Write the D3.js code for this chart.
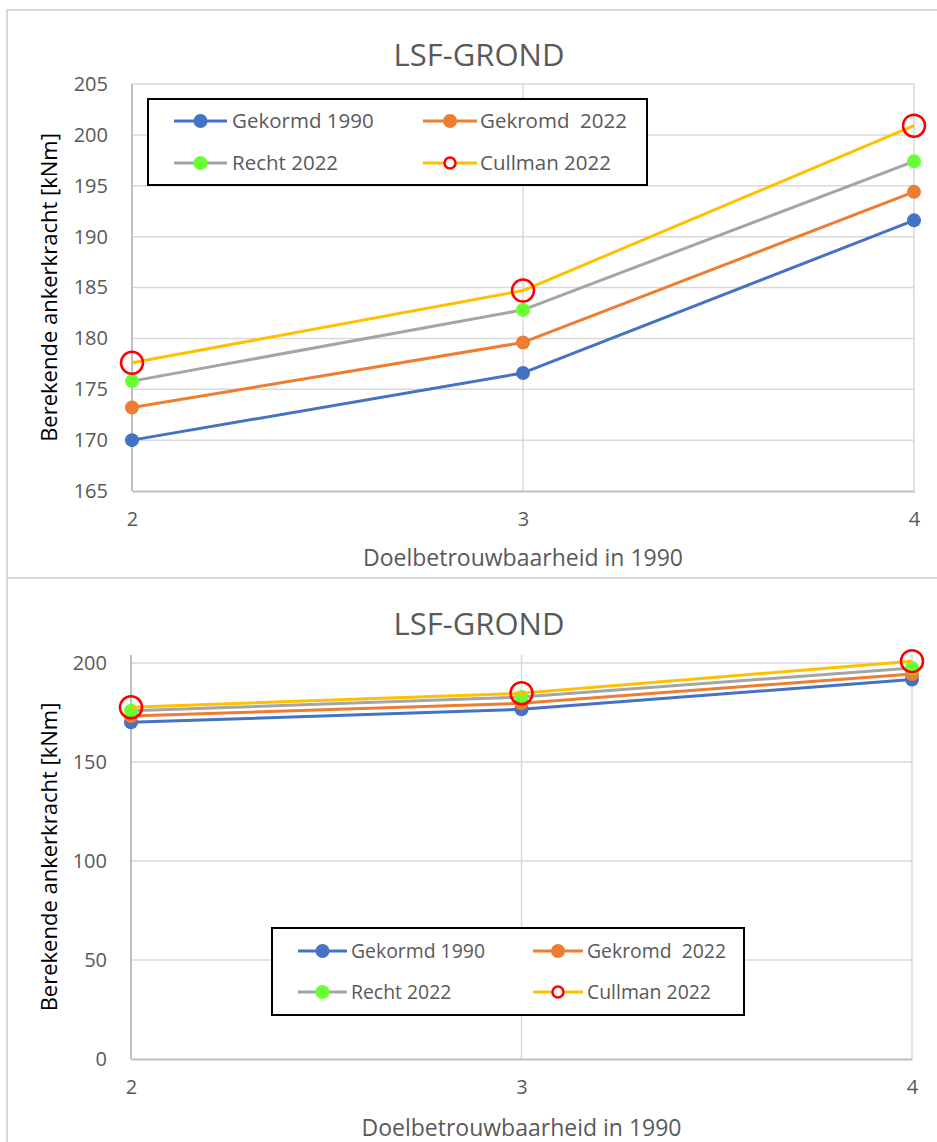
<!DOCTYPE html>
<html>
<head>
<meta charset="utf-8">
<script src="https://cdn.jsdelivr.net/npm/d3@7"></script>
<style>
  html, body { margin: 0; padding: 0; background: #ffffff; }
  svg { display: block; }
  text { font-family: "Open Sans", "Liberation Sans", sans-serif; }
</style>
</head>
<body>
<svg id="chart" width="937" height="1142"></svg>
<script>
// Target reliability (x) and calculated anchor force per method
const xValues = [2, 3, 4];
const gekormd1990 = [170.0, 176.6, 191.6];
const gekromd2022 = [173.2, 179.6, 194.4];
const recht2022   = [175.8, 182.8, 197.4];
const cullman2022 = [177.6, 184.7, 200.9];

const seriesNames = ["Gekormd 1990", "Gekromd  2022", "Recht 2022", "Cullman 2022"];

const topYTicks = [165, 170, 175, 180, 185, 190, 195, 200, 205];
const bottomYTicks = [0, 50, 100, 150, 200];
const xTicks = [2, 3, 4];

const chartTitle = "LSF-GROND";
const xTitle = "Doelbetrouwbaarheid in 1990";
const yTitle = "Berekende ankerkracht [kNm]";

// Series styling
const series = [
  { name: seriesNames[0], values: gekormd1990, line: "#4472C4", fill: "#4472C4", stroke: "none", r: 7, legendR: 7 },
  { name: seriesNames[1], values: gekromd2022, line: "#ED7D31", fill: "#ED7D31", stroke: "none", r: 7, legendR: 7 },
  { name: seriesNames[2], values: recht2022,   line: "#A5A5A5", fill: "#66FF33", stroke: "none", r: 7, legendR: 7 },
  { name: seriesNames[3], values: cullman2022, line: "#FFC000", fill: "none", stroke: "#FF0000", r: 11, legendR: 5.5 }
];

const svg = d3.select("#chart");

function drawChart(cfg) {
  const g = svg.append("g");

  // chart-area frame
  g.append("rect")
    .attr("x", cfg.frame.x).attr("y", cfg.frame.y)
    .attr("width", cfg.frame.w).attr("height", cfg.frame.h)
    .attr("fill", "#ffffff").attr("stroke", "#d9d9d9").attr("stroke-width", 2);

  const x = d3.scaleLinear().domain([2, 4]).range([cfg.left, cfg.right]);
  const y = d3.scaleLinear().domain(cfg.yDomain).range([cfg.bottom, cfg.top]);

  // horizontal gridlines
  g.append("g").selectAll("line").data(cfg.yTicks.filter(v => v !== cfg.yDomain[0])).join("line")
    .attr("x1", cfg.left).attr("x2", cfg.right)
    .attr("y1", d => y(d)).attr("y2", d => y(d))
    .attr("stroke", "#d9d9d9").attr("stroke-width", 1.5);

  // vertical gridlines
  g.append("g").selectAll("line").data(xTicks.slice(1)).join("line")
    .attr("x1", d => x(d)).attr("x2", d => x(d))
    .attr("y1", cfg.top).attr("y2", cfg.bottom)
    .attr("stroke", "#d9d9d9").attr("stroke-width", 1.5);

  // axes via d3 axis generators, styled flat
  const yAxis = g.append("g").attr("transform", `translate(${cfg.left},0)`)
    .call(d3.axisLeft(y).tickValues(cfg.yTicks).tickSize(0).tickPadding(24));
  const xAxis = g.append("g").attr("transform", `translate(0,${cfg.bottom})`)
    .call(d3.axisBottom(x).tickValues(xTicks).tickSize(0).tickFormat(d3.format("d")).tickPadding(cfg.xTickPad));
  [yAxis, xAxis].forEach(a => {
    a.select(".domain").attr("stroke", "#bfbfbf").attr("stroke-width", 2);
    a.selectAll("text").attr("fill", "#595959").style("font-size", cfg.tickSize + "px")
      .style("font-family", "'Open Sans', sans-serif");
  });
  yAxis.select(".domain").attr("d", `M0,${cfg.bottom}V${cfg.top}`);

  // title
  g.append("text").attr("x", cfg.titleX).attr("y", cfg.titleY)
    .attr("text-anchor", "middle").attr("fill", "#595959")
    .style("font-size", "31px").text(chartTitle);

  // axis titles
  g.append("text").attr("x", (cfg.left + cfg.right) / 2).attr("y", cfg.xTitleY)
    .attr("text-anchor", "middle").attr("fill", "#595959")
    .style("font-size", "23px").text(xTitle);
  g.append("text")
    .attr("transform", `translate(${cfg.yTitleX},${(cfg.top + cfg.bottom) / 2}) rotate(-90)`)
    .attr("text-anchor", "middle").attr("fill", "#000000")
    .style("font-size", "22px").text(yTitle);

  // series: line then markers, in series order
  const lineGen = d3.line().x((d, i) => x(xValues[i])).y(d => y(d));
  series.forEach(s => {
    g.append("path").datum(s.values)
      .attr("d", lineGen).attr("fill", "none")
      .attr("stroke", s.line).attr("stroke-width", 3).attr("stroke-linejoin", "round");
    g.append("g").selectAll("circle").data(s.values).join("circle")
      .attr("cx", (d, i) => x(xValues[i])).attr("cy", d => y(d)).attr("r", s.r)
      .attr("fill", s.fill).attr("stroke", s.stroke).attr("stroke-width", s.stroke === "none" ? 0 : 2.5);
  });

  // legend
  const L = cfg.legend;
  const lg = g.append("g").attr("transform", `translate(${L.x},${L.y})`);
  lg.append("rect").attr("width", L.w).attr("height", L.h)
    .attr("fill", "#ffffff").attr("stroke", "#000000").attr("stroke-width", 2);
  series.forEach((s, i) => {
    const col = i % 2, row = Math.floor(i / 2);
    const x0 = L.cols[col][0], x1 = L.cols[col][1], tx = L.cols[col][2];
    const ry = L.rows[row];
    lg.append("line").attr("x1", x0).attr("x2", x1).attr("y1", ry).attr("y2", ry)
      .attr("stroke", s.line).attr("stroke-width", 3);
    lg.append("circle").attr("cx", (x0 + x1) / 2).attr("cy", ry).attr("r", s.legendR)
      .attr("fill", s.fill === "none" ? "#ffffff" : s.fill)
      .attr("stroke", s.stroke).attr("stroke-width", s.stroke === "none" ? 0 : 2.5);
    lg.append("text").attr("x", tx).attr("y", ry).attr("dy", "0.35em")
      .attr("fill", "#595959").style("font-size", L.fontSize + "px")
      .style("white-space", "pre").attr("xml:space", "preserve").text(s.name);
  });
}

drawChart({
  frame: { x: 7, y: 10, w: 960, h: 568 },
  left: 132, right: 914, top: 84, bottom: 491,
  yDomain: [165, 205], yTicks: topYTicks,
  tickSize: 20, xTickPad: 21,
  titleX: 479, titleY: 66,
  xTitleY: 566, yTitleX: 57,
  legend: { x: 148, y: 99, w: 499, h: 86, fontSize: 20.5,
            cols: [[26, 79, 84], [275, 329, 332]], rows: [22, 64] }
});

drawChart({
  frame: { x: 7, y: 578, w: 960, h: 600 },
  left: 131, right: 912, top: 655, bottom: 1059,
  yDomain: [0, 204], yTicks: bottomYTicks,
  tickSize: 20, xTickPad: 21,
  titleX: 479, titleY: 635,
  xTitleY: 1136, yTitleX: 57,
  legend: { x: 272, y: 928, w: 472, h: 87, fontSize: 19.4,
            cols: [[26, 75, 79], [261, 311, 315]], rows: [23, 64] }
});
</script>
</body>
</html>
